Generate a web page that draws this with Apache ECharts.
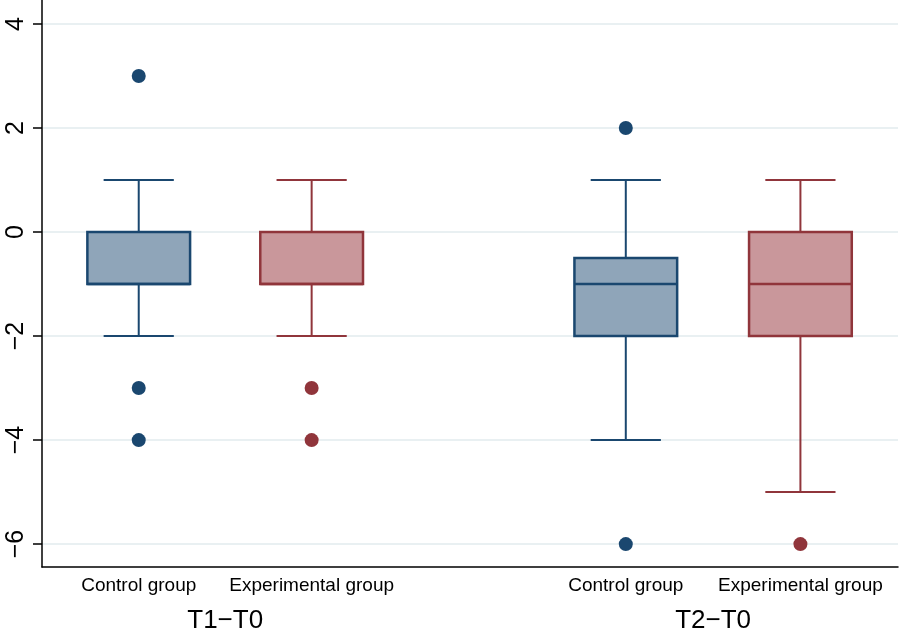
<!DOCTYPE html>
<html>
<head>
<meta charset="utf-8">
<script src="https://cdn.jsdelivr.net/npm/echarts@6/dist/echarts.min.js"></script>
<style>
  html, body { margin: 0; padding: 0; background: #fff; }
  #chart { width: 906px; height: 632px; }
</style>
</head>
<body>
<div id="chart"></div>
<script>
// 数据
const periods = ['T1\u2212T0', 'T2\u2212T0'];
const groupNames = ['Control group', 'Experimental group'];
// [下须, Q1, 中位数, Q3, 上须]
const controlBox = [[-2, -1, -1, 0, 1], [-4, -2, -1, -0.5, 1]];
const experimentalBox = [[-2, -1, -1, 0, 1], [-5, -2, -1, 0, 1]];
const controlOutliers = [[3, -3, -4], [2, -6]];
const experimentalOutliers = [[-3, -4], [-6]];
const yTicks = [-6, -4, -2, 0, 2, 4];

// 布局：每组箱子在x轴上的位置
const controlX = [1.13, 6.82];
const experimentalX = [3.15, 8.86];
const periodX = [2.14, 7.84];
const BOX_W = 1.2;
const CAP_W = 0.82;

const navy = '#1a476f';
const navyFill = '#8fa5b9';
const maroon = '#90353b';
const maroonFill = '#c9979b';

const minus = v => String(v).replace('-', '\u2212');

function boxRows(xs, boxes) {
    return boxes.map((b, i) => [xs[i]].concat(b));
}

function outlierRows(xs, outs) {
    const rows = [];
    outs.forEach((arr, i) => arr.forEach(v => rows.push([xs[i], v])));
    return rows;
}

function makeRender(stroke, fill) {
    return function (params, api) {
        const x = api.value(0);
        const lo = api.coord([x, api.value(1)]);
        const q1 = api.coord([x, api.value(2)]);
        const med = api.coord([x, api.value(3)]);
        const q3 = api.coord([x, api.value(4)]);
        const hi = api.coord([x, api.value(5)]);
        const bw = api.size([BOX_W, 0])[0];
        const cw = api.size([CAP_W, 0])[0];
        const line = { stroke: stroke, lineWidth: 2 };
        return {
            type: 'group',
            children: [
                { type: 'line', shape: { x1: hi[0], y1: hi[1], x2: hi[0], y2: q3[1] }, style: line },
                { type: 'line', shape: { x1: lo[0], y1: lo[1], x2: lo[0], y2: q1[1] }, style: line },
                { type: 'line', shape: { x1: hi[0] - cw / 2, y1: hi[1], x2: hi[0] + cw / 2, y2: hi[1] }, style: line },
                { type: 'line', shape: { x1: lo[0] - cw / 2, y1: lo[1], x2: lo[0] + cw / 2, y2: lo[1] }, style: line },
                { type: 'rect', shape: { x: q3[0] - bw / 2, y: q3[1], width: bw, height: q1[1] - q3[1] },
                  style: { fill: fill, stroke: stroke, lineWidth: 2.5 } },
                { type: 'line', shape: { x1: med[0] - bw / 2, y1: med[1], x2: med[0] + bw / 2, y2: med[1] },
                  style: { stroke: stroke, lineWidth: 2.5 } }
            ]
        };
    };
}

const chart = echarts.init(document.getElementById('chart'));

const allX = controlX.concat(experimentalX);
const allNames = controlX.map(() => groupNames[0]).concat(experimentalX.map(() => groupNames[1]));

const option = {
    backgroundColor: '#fff',
    animation: false,
    textStyle: { fontFamily: 'Liberation Sans' },
    grid: { left: 42, right: 8, top: 0, bottom: 65, containLabel: false, outerBoundsMode: 'none' },
    xAxis: [{
        type: 'value',
        min: 0,
        max: 10,
        axisLine: { show: true, onZero: false, lineStyle: { color: '#000', width: 1.5 } },
        axisTick: { show: false },
        splitLine: { show: false },
        axisLabel: {
            customValues: allX,
            margin: 9,
            fontSize: 19,
            color: '#000',
            formatter: v => {
                let best = 0;
                allX.forEach((p, i) => { if (Math.abs(p - v) < Math.abs(allX[best] - v)) best = i; });
                return allNames[best];
            }
        }
    }, {
        type: 'value',
        min: 0,
        max: 10,
        position: 'bottom',
        offset: 35,
        axisLine: { show: false, onZero: false },
        axisTick: { show: false },
        splitLine: { show: false },
        axisLabel: {
            customValues: periodX,
            margin: 6,
            fontSize: 26,
            color: '#000',
            formatter: v => periods[Math.abs(v - periodX[0]) < Math.abs(v - periodX[1]) ? 0 : 1]
        }
    }],
    yAxis: {
        type: 'value',
        min: -6.44,
        max: 4.46,
        axisLine: { show: true, lineStyle: { color: '#000', width: 1.5 } },
        axisTick: { show: true, length: 9, customValues: yTicks, lineStyle: { color: '#000', width: 1.5 } },
        splitLine: { show: true, customValues: yTicks, lineStyle: { color: '#e9f0f2', width: 2 } },
        axisLabel: {
            customValues: yTicks,
            rotate: 90,
            margin: 13,
            fontSize: 25,
            color: '#000',
            formatter: minus
        }
    },
    series: [{
        type: 'custom',
        name: groupNames[0],
        renderItem: makeRender(navy, navyFill),
        encode: { x: 0, y: [1, 2, 3, 4, 5] },
        data: boxRows(controlX, controlBox),
        z: 2
    }, {
        type: 'custom',
        name: groupNames[1],
        renderItem: makeRender(maroon, maroonFill),
        encode: { x: 0, y: [1, 2, 3, 4, 5] },
        data: boxRows(experimentalX, experimentalBox),
        z: 2
    }, {
        type: 'scatter',
        symbolSize: 14,
        itemStyle: { color: navy, opacity: 1 },
        data: outlierRows(controlX, controlOutliers),
        z: 3
    }, {
        type: 'scatter',
        symbolSize: 14,
        itemStyle: { color: maroon, opacity: 1 },
        data: outlierRows(experimentalX, experimentalOutliers),
        z: 3
    }]
};

chart.setOption(option);
</script>
</body>
</html>
